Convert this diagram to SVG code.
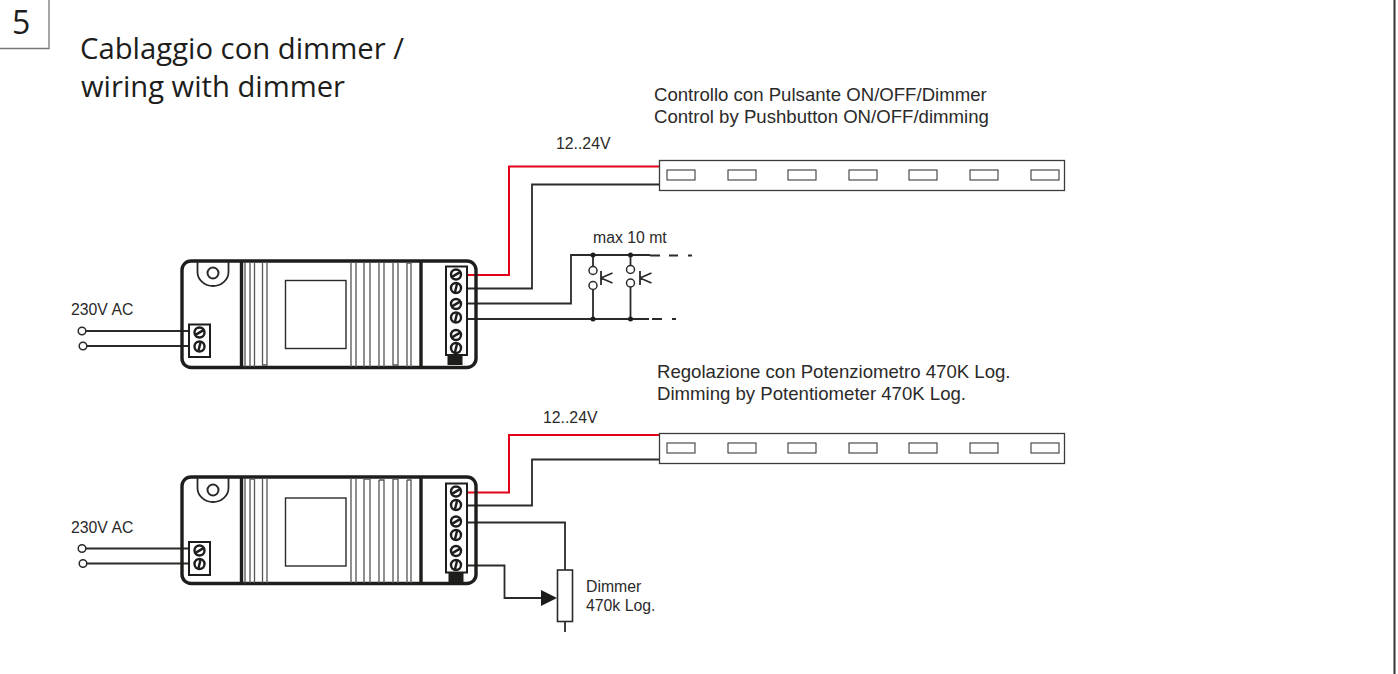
<svg xmlns="http://www.w3.org/2000/svg" width="1398" height="674" viewBox="0 0 1398 674">
<style>
.w{fill:none;stroke:#2b2a29;stroke-width:1.8}
.r{fill:none;stroke:#e2001a;stroke-width:2}
.b{fill:none;stroke:#1d1d1b;stroke-width:3.4}
.t{fill:none;stroke:#555;stroke-width:1.3}
.o{fill:#fff;stroke:#2b2a29;stroke-width:1.5}
.f{fill:none;stroke:#2b2a29;stroke-width:1.4}
.k{fill:#1d1d1b}
.l{font-family:"Liberation Sans",Arial,sans-serif;font-size:15.8px;fill:#2b2a29}
.m{font-family:"Liberation Sans",Arial,sans-serif;font-size:18.6px;fill:#2b2a29}
.h{font-family:"Open Sans","Noto Sans",sans-serif;font-size:30px;fill:#1d1d1b}
</style>
<defs>
<g id="s"><circle r="5" fill="#fff" stroke="#1d1d1b" stroke-width="2.4"/><path d="M-4 2.400L4 -2.400" stroke="#1d1d1b" stroke-width="2.400"/></g>
<g id="u"><circle r="5" fill="#fff" stroke="#1d1d1b" stroke-width="2.4"/><path d="M-1 4L1 -4" stroke="#1d1d1b" stroke-width="2.400"/></g>
<g id="led"><rect width="28" height="10" fill="#fff" stroke="#3c3c3b" stroke-width="1.1"/></g>
<g id="strip">
<rect x="659.500" y="0.500" width="405" height="30" fill="#fff" stroke="#3c3c3b" stroke-width="1.300"/>
<use href="#led" x="667" y="10"/><use href="#led" x="728" y="10"/><use href="#led" x="788" y="10"/><use href="#led" x="849" y="10"/><use href="#led" x="909" y="10"/><use href="#led" x="970" y="10"/><use href="#led" x="1031" y="10"/>
</g>
</defs>
<g id="corner-box"><path d="M49 0V48.500H0" fill="none" stroke="#777" stroke-width="1.300"/><text x="12" y="33.500" style="font-family:'Open Sans','Noto Sans',sans-serif;font-size:32px;fill:#1d1d1b">5</text></g>
<path id="right-edge" d="M1394.500 0V674" fill="none" stroke="#333" stroke-width="2"/>
<g id="title"><text class="h" x="80" y="58.500" textLength="324" lengthAdjust="spacingAndGlyphs">Cablaggio con dimmer /</text><text class="h" x="81" y="97" textLength="264" lengthAdjust="spacingAndGlyphs">wiring with dimmer</text></g>
<g id="connectors">
<path class="r" d="M467 275H509V166.500H659"/>
<path class="w" d="M467 288.500H532V184.500H659"/>
<path class="w" d="M467 303.500H571V255H650"/>
<path class="w" d="M467 319H643"/>
<path class="w" d="M650 255.500H660M669 255.500H678M688 255.500H692"/>
<path class="w" d="M643 319H649M652 319H662M672 319H676"/>
<path class="w" d="M593 255V267M593 289V319M630.500 255V266M630.500 287V319"/>
<path class="w" d="M601 271V285M601 278L612.500 273M601 278L612.500 283M640 271V285M640 278L651.500 273M640 278L651.500 283"/>
<path class="w" d="M86 331H188M87 346H188M86 548.500H188M87 563.500H188"/>
<path class="r" d="M467 492.500H509V435H659"/>
<path class="w" d="M467 505.500H532V459.500H659"/>
<path class="w" d="M467 522.500H565V570"/>
<path class="w" d="M467 565.500H504.500V598H541"/>
<path class="w" d="M565 622V632"/>
<path class="k" d="M541 590L557 598L541 606Z"/>
<circle class="k" cx="593" cy="255" r="2.500"/><circle class="k" cx="630.500" cy="255" r="2.500"/><circle class="k" cx="593" cy="319" r="2.500"/><circle class="k" cx="630.500" cy="319" r="2.500"/>
<circle class="o" cx="593" cy="270.500" r="4"/><circle class="o" cx="593" cy="285.500" r="4"/><circle class="o" cx="630.500" cy="269.500" r="4"/><circle class="o" cx="630.500" cy="283" r="4"/>
<circle class="o" cx="82" cy="331" r="3.800"/><circle class="o" cx="83" cy="346" r="3.800"/><circle class="o" cx="82" cy="548.500" r="3.800"/><circle class="o" cx="83" cy="563.500" r="3.800"/>
</g>
<g id="driver-top">
<rect class="b" x="182" y="261" width="294" height="106.500" rx="9"/>
<path class="b" d="M241.500 261V367M421 261V367"/>
<path class="t" d="M245 262V367M250 262V367M254.500 262V367M262.500 262V365H267V262M351 262V367M356 262V367M364 262V367M370 262V367M379 262V367M384 262V367M393 262V365H398V262M407 263H411V367M407 263V367"/>
<rect class="f" x="285.500" y="280.500" width="60.500" height="68"/>
<path d="M197.500 262V272A15.500 14 0 0 0 228.500 272V262" fill="none" stroke="#2b2a29" stroke-width="1.800"/>
<circle cx="213" cy="273" r="5.500" fill="#fff" stroke="#2b2a29" stroke-width="2"/>
<rect x="189" y="324.500" width="21" height="32.500" fill="#fff" stroke="#1d1d1b" stroke-width="2"/>
<use href="#s" x="199.500" y="332.500"/><use href="#u" x="199.500" y="346.500"/>
<rect class="k" x="447.500" y="355" width="15" height="10"/>
<rect x="446" y="266.500" width="21" height="88.500" fill="#fff" stroke="#1d1d1b" stroke-width="2"/>
<use href="#s" x="456" y="274.500"/><use href="#u" x="456" y="288"/><use href="#s" x="456" y="304"/><use href="#u" x="456" y="317.500"/><use href="#s" x="456" y="335"/><use href="#u" x="456" y="348"/>
</g>
<g id="driver-bottom">
<rect class="b" x="182" y="477" width="294" height="106.500" rx="9"/>
<path class="b" d="M241.500 477V583M421 477V583"/>
<path class="t" d="M245 478V583M250 479H254.500V583M250 479V583M262.500 478V583M267 478V583M351 478V583M356 478V583M364 479H370V583M364 479V583M379 480H384V583M379 480V583M393 479H398V583M393 479V583M407 480H411V583M407 480V583"/>
<rect class="f" x="285.500" y="498" width="60.500" height="68"/>
<path d="M197.500 478V488A15.500 14 0 0 0 228.500 488V478" fill="none" stroke="#2b2a29" stroke-width="1.800"/>
<circle cx="213" cy="490" r="5.500" fill="#fff" stroke="#2b2a29" stroke-width="2"/>
<rect x="189" y="542" width="21" height="33" fill="#fff" stroke="#1d1d1b" stroke-width="2"/>
<use href="#s" x="199.500" y="550.500"/><use href="#u" x="199.500" y="564"/>
<rect class="k" x="448.500" y="572" width="15" height="11"/>
<rect x="446" y="483.500" width="21" height="89" fill="#fff" stroke="#1d1d1b" stroke-width="2"/>
<use href="#s" x="456" y="491.500"/><use href="#u" x="456" y="505"/><use href="#s" x="456" y="521.500"/><use href="#u" x="456" y="535"/><use href="#s" x="456" y="551"/><use href="#u" x="456" y="565"/>
</g>
<g id="strip-top"><use href="#strip" y="160"/></g>
<g id="strip-bottom"><use href="#strip" y="433"/></g>
<g id="potentiometer"><rect x="557.500" y="570" width="15" height="51.500" fill="#fff" stroke="#2b2a29" stroke-width="1.600"/></g>
<g id="labels">
<text class="m" x="654" y="101">Controllo con Pulsante ON/OFF/Dimmer</text>
<text class="m" x="654" y="122.500">Control by Pushbutton ON/OFF/dimming</text>
<text class="l" x="556" y="149">12..24V</text>
<text class="l" x="593" y="243">max 10 mt</text>
<text class="l" x="71" y="315">230V AC</text>
<text class="m" x="657" y="377.500">Regolazione con Potenziometro 470K Log.</text>
<text class="m" x="657" y="400">Dimming by Potentiometer 470K Log.</text>
<text class="l" x="543" y="423">12..24V</text>
<text class="l" x="71" y="533">230V AC</text>
<text class="l" x="586" y="592">Dimmer</text>
<text class="l" x="586" y="611">470k Log.</text>
</g>
</svg>
